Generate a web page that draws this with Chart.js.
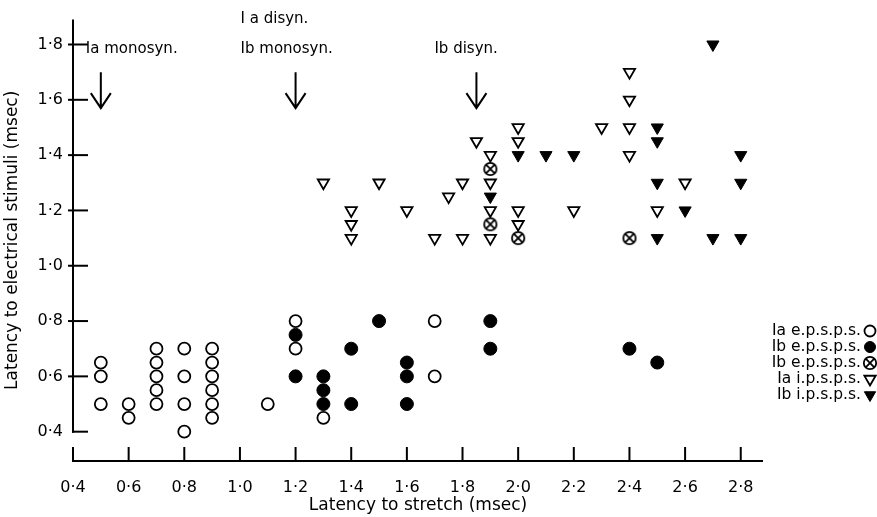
<!DOCTYPE html>
<html>
<head>
<meta charset="utf-8">
<script src="https://cdn.jsdelivr.net/npm/chart.js"></script>
<style>
  html, body { margin: 0; padding: 0; background: #fff; }
  #wrap { width: 877px; height: 517px; }
</style>
</head>
<body>
<div id="wrap"><canvas id="c" width="877" height="517"></canvas></div>
<script>
// tick values on both axes
const xTicks = [0.4, 0.6, 0.8, 1.0, 1.2, 1.4, 1.6, 1.8, 2.0, 2.2, 2.4, 2.6, 2.8];
const yTicks = [0.4, 0.6, 0.8, 1.0, 1.2, 1.4, 1.6, 1.8];

// Ia e.p.s.p.s. (open circles)
const iaEpspX = [0.5, 0.5, 0.5, 0.6, 0.6, 0.7, 0.7, 0.7, 0.7, 0.7, 0.8, 0.8, 0.8, 0.8, 0.9, 0.9, 0.9, 0.9, 0.9, 0.9, 1.1, 1.2, 1.2, 1.3, 1.7, 1.7];
const iaEpspY = [0.65, 0.6, 0.5, 0.5, 0.45, 0.7, 0.65, 0.6, 0.55, 0.5, 0.7, 0.6, 0.5, 0.4, 0.7, 0.65, 0.6, 0.55, 0.5, 0.45, 0.5, 0.8, 0.7, 0.45, 0.8, 0.6];

// Ib e.p.s.p.s. (filled circles)
const ibEpspX = [1.2, 1.2, 1.3, 1.3, 1.3, 1.4, 1.4, 1.5, 1.6, 1.6, 1.6, 1.9, 1.9, 2.4, 2.5];
const ibEpspY = [0.75, 0.6, 0.6, 0.55, 0.5, 0.7, 0.5, 0.8, 0.65, 0.6, 0.5, 0.8, 0.7, 0.7, 0.65];

// Ib e.p.s.p.s. (crossed circles)
const ibEpspXX = [1.9, 1.9, 2.0, 2.4];
const ibEpspXY = [1.35, 1.15, 1.1, 1.1];

// Ia i.p.s.p.s. (open triangles)
const iaIpspX = [1.3, 1.4, 1.4, 1.4, 1.5, 1.6, 1.7, 1.75, 1.85, 1.8, 1.8, 1.9, 1.9, 1.9, 1.9, 2.0, 2.0, 2.0, 2.0, 2.2, 2.3, 2.4, 2.4, 2.4, 2.4, 2.5, 2.6];
const iaIpspY = [1.3, 1.2, 1.15, 1.1, 1.3, 1.2, 1.1, 1.25, 1.45, 1.3, 1.1, 1.4, 1.3, 1.2, 1.1, 1.5, 1.45, 1.2, 1.15, 1.2, 1.5, 1.7, 1.6, 1.5, 1.4, 1.2, 1.3];

// Ib i.p.s.p.s. (filled triangles)
const ibIpspX = [1.9, 2.0, 2.1, 2.2, 2.5, 2.5, 2.5, 2.5, 2.6, 2.7, 2.7, 2.8, 2.8, 2.8];
const ibIpspY = [1.25, 1.4, 1.4, 1.4, 1.5, 1.45, 1.3, 1.1, 1.2, 1.8, 1.1, 1.4, 1.3, 1.1];

// arrows marking expected latencies
const arrowX = [0.5, 1.2, 1.85];
const arrowLabels = [['Ia monosyn.'], ['I a disyn.', 'Ib monosyn.'], ['Ib disyn.']];

const FONT = "'DejaVu Sans', Verdana, sans-serif";

function pts(xs, ys) { return xs.map((x, i) => ({x: x, y: ys[i]})); }

// circle with a cross in it
function crossCircle() {
  const cv = document.createElement('canvas');
  cv.width = 16; cv.height = 16;
  const g = cv.getContext('2d');
  g.strokeStyle = '#000'; g.lineWidth = 1.8;
  g.beginPath(); g.arc(8, 8, 6.2, 0, Math.PI * 2); g.stroke();
  const d = 4.3;
  g.beginPath();
  g.moveTo(8 - d, 8 - d); g.lineTo(8 + d, 8 + d);
  g.moveTo(8 + d, 8 - d); g.lineTo(8 - d, 8 + d);
  g.stroke();
  return cv;
}

const datasets = [
  {label: 'Ia e.p.s.p.s.', data: pts(iaEpspX, iaEpspY), pointStyle: 'circle', pointRadius: 6, borderWidth: 1.8, borderColor: '#000', backgroundColor: '#fff'},
  {label: 'Ib e.p.s.p.s.', data: pts(ibEpspX, ibEpspY), pointStyle: 'circle', pointRadius: 6.5, borderWidth: 1, borderColor: '#000', backgroundColor: '#000'},
  {label: 'Ib e.p.s.p.s.', data: pts(ibEpspXX, ibEpspXY), pointStyle: crossCircle(), pointRadius: 6, borderColor: '#000', backgroundColor: '#fff'},
  {label: 'Ia i.p.s.p.s.', data: pts(iaIpspX, iaIpspY), pointStyle: 'triangle', rotation: 180, pointRadius: 6.5, borderWidth: 1.8, borderColor: '#000', backgroundColor: '#fff'},
  {label: 'Ib i.p.s.p.s.', data: pts(ibIpspX, ibIpspY), pointStyle: 'triangle', rotation: 180, pointRadius: 7, borderWidth: 1, borderColor: '#000', backgroundColor: '#000'}
];

const fmt = v => Number(v).toFixed(1).replace('.', '\u00b7');

// axes, arrows, notes and key drawn by hand
const decor = {
  id: 'decor',
  afterDraw(chart) {
    const ctx = chart.ctx, a = chart.chartArea;
    const xs = chart.scales.x, ys = chart.scales.y;
    ctx.save();
    ctx.strokeStyle = '#000'; ctx.lineWidth = 2; ctx.lineCap = 'butt';
    // y axis, stops at 0.4
    const y04 = ys.getPixelForValue(0.4);
    ctx.beginPath(); ctx.moveTo(a.left, a.top); ctx.lineTo(a.left, y04 + 1); ctx.stroke();
    yTicks.forEach(v => {
      const py = ys.getPixelForValue(v);
      ctx.beginPath(); ctx.moveTo(v === 0.4 ? a.left - 1 : a.left - 5, py); ctx.lineTo(a.left + 15, py); ctx.stroke();
    });
    // x axis, detached below, ticks point up
    const x04 = xs.getPixelForValue(0.4);
    ctx.beginPath(); ctx.moveTo(x04 - 1, a.bottom); ctx.lineTo(a.right, a.bottom); ctx.stroke();
    xTicks.forEach(v => {
      const px = xs.getPixelForValue(v);
      ctx.beginPath(); ctx.moveTo(px, a.bottom); ctx.lineTo(px, a.bottom - 14); ctx.stroke();
    });
    // arrows
    ctx.fillStyle = '#000';
    ctx.font = '15px ' + FONT;
    ctx.textBaseline = 'middle';
    ctx.textAlign = 'left';
    arrowX.forEach((v, i) => {
      const px = xs.getPixelForValue(v);
      const tip = ys.getPixelForValue(1.57), tail = ys.getPixelForValue(1.70);
      ctx.beginPath();
      ctx.moveTo(px, tail); ctx.lineTo(px, tip);
      ctx.moveTo(px - 10, tip - 15); ctx.lineTo(px, tip); ctx.lineTo(px + 10, tip - 15);
      ctx.stroke();
      const labs = arrowLabels[i];
      labs.forEach((t, j) => {
        const ty = 49 - (labs.length - 1 - j) * 30;
        let lx;
        if (i === 0) lx = px - 15;
        else if (i === 1) lx = px - 55;
        else lx = px - 42;
        ctx.fillText(t, lx, ty);
      });
    });
    // key at lower right
    ctx.font = '15.5px ' + FONT;
    ctx.textAlign = 'right';
    const kx = 861, ky0 = 331, kdy = 16;
    chart.data.datasets.forEach((ds, i) => {
      const ky = ky0 + i * kdy;
      const mx = kx + 9;
      ctx.fillStyle = '#000';
      ctx.fillText(ds.label, kx, ky);
      ctx.strokeStyle = '#000'; ctx.fillStyle = ds.backgroundColor;
      ctx.lineWidth = ds.borderWidth || 1.5;
      if (typeof ds.pointStyle !== 'string') {
        ctx.drawImage(ds.pointStyle, mx - 8, ky - 8);
        return;
      }
      ctx.beginPath();
      if (ds.pointStyle === 'circle') ctx.arc(mx, ky, 5.5, 0, Math.PI * 2);
      else {
        const r = 6.5;
        ctx.moveTo(mx, ky + r);
        ctx.lineTo(mx - r * 0.866, ky - r / 2);
        ctx.lineTo(mx + r * 0.866, ky - r / 2);
        ctx.closePath();
      }
      ctx.fill(); ctx.stroke();
    });
    ctx.restore();
  }
};

new Chart(document.getElementById('c'), {
  type: 'scatter',
  data: {datasets: datasets},
  options: {
    responsive: false,
    animation: false,
    events: [],
    layout: {padding: {top: 8, right: 114, left: 0, bottom: 0}},
    plugins: {legend: {display: false}, tooltip: {enabled: false}},
    scales: {
      x: {
        type: 'linear', min: 0.4, max: 2.88,
        afterBuildTicks: s => { s.ticks = xTicks.map(v => ({value: v})); },
        afterFit: s => { s.height = 56; },
        grid: {display: false, drawTicks: false},
        border: {display: false},
        ticks: {color: '#000', font: {family: FONT, size: 16}, padding: 17, callback: fmt, maxRotation: 0},
        title: {display: true, text: 'Latency to stretch (msec)', color: '#000', font: {family: FONT, size: 17}, padding: {top: 0, bottom: 1}}
      },
      y: {
        type: 'linear', min: 0.294, max: 1.89,
        afterBuildTicks: s => { s.ticks = yTicks.map(v => ({value: v})); },
        afterFit: s => { s.width = 73; },
        grid: {display: false, drawTicks: false},
        border: {display: false},
        ticks: {color: '#000', font: {family: FONT, size: 16}, padding: 10, callback: fmt},
        title: {display: true, text: 'Latency to electrical stimuli (msec)', color: '#000', font: {family: FONT, size: 17}, padding: {top: 2, bottom: 0}}
      }
    }
  },
  plugins: [decor]
});
</script>
</body>
</html>
